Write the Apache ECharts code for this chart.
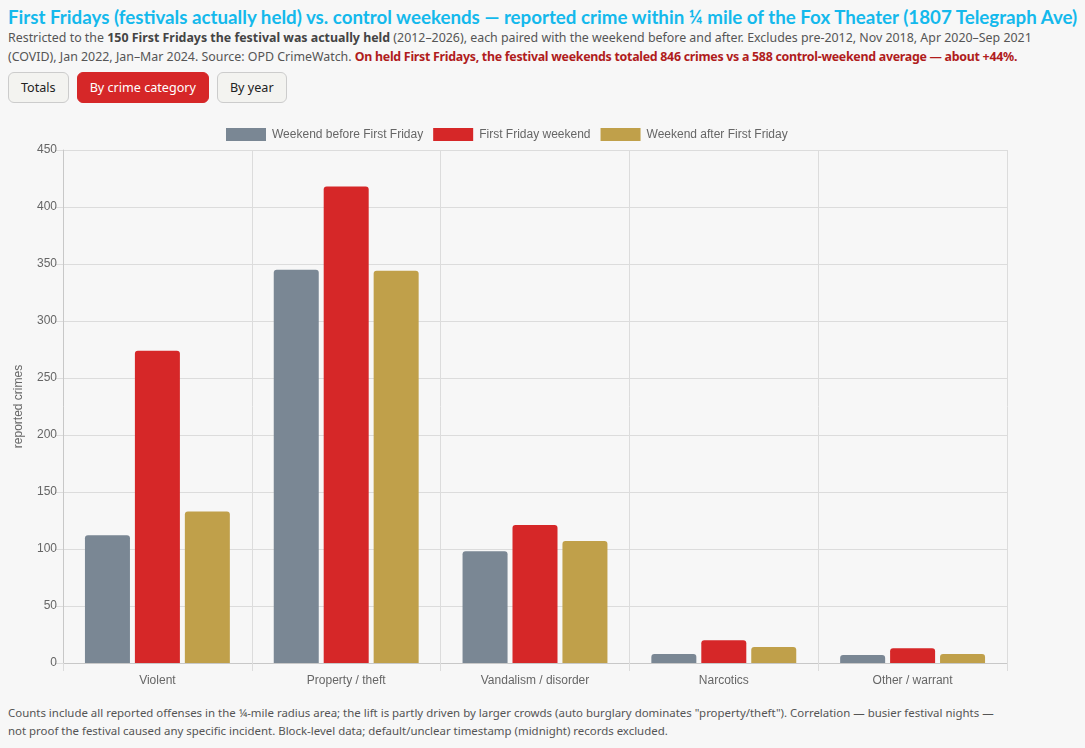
<!DOCTYPE html>
<html>
<head>
<meta charset="utf-8">
<script src="https://cdn.jsdelivr.net/npm/echarts@6/dist/echarts.min.js"></script>
<style>
  body {
    margin: 0;
    background: #f7f7f7;
    font-family: 'Noto Sans', sans-serif;
    width: 1085px;
    height: 748px;
    overflow: hidden;
    position: relative;
  }
  h1 {
    position: absolute;
    left: 8px;
    top: 6px;
    margin: 0;
    font-family: Lato, sans-serif;
    font-size: 20px;
    font-weight: 700;
    color: #14b9ec;
    white-space: nowrap;
  }
  .sub {
    position: absolute;
    left: 8px;
    top: 28px;
    width: 1070px;
    font-size: 12.4px;
    line-height: 19px;
    color: #555;
  }
  .sub b { color: #444; }
  .sub .hl { color: #b01c1c; font-weight: 700; letter-spacing: -0.28px; }
  .buttons {
    position: absolute;
    left: 8px;
    top: 72px;
    display: flex;
    gap: 8px;
  }
  .buttons button {
    height: 31px;
    padding: 0 12px;
    border: 1px solid #ccc;
    border-radius: 6px;
    background: #f3f3f0;
    color: #222;
    font-family: 'Noto Sans', sans-serif;
    font-size: 12.6px;
  }
  .buttons button.active {
    background: #d62728;
    border-color: #d62728;
    color: #fff;
  }
  #chart {
    position: absolute;
    left: 0;
    top: 110px;
    width: 1085px;
    height: 590px;
  }
  .note {
    position: absolute;
    left: 8px;
    top: 704px;
    width: 1000px;
    font-size: 11.45px;
    line-height: 18px;
    color: #555;
  }
</style>
</head>
<body>
<h1 id="title">First Fridays (festivals actually held) vs. control weekends — reported crime within ¼ mile of the Fox Theater (1807 Telegraph Ave)</h1>
<div class="sub">Restricted to the <b>150 First Fridays the festival was actually held</b> (2012–2026), each paired with the weekend before and after. Excludes pre-2012, Nov 2018, Apr 2020–Sep 2021 (COVID), Jan 2022, Jan–Mar 2024. Source: OPD CrimeWatch. <span class="hl">On held First Fridays, the festival weekends totaled 846 crimes vs a 588 control-weekend average — about +44%.</span></div>
<div class="buttons">
  <button>Totals</button>
  <button class="active">By crime category</button>
  <button>By year</button>
</div>
<div id="chart"></div>
<div class="note">Counts include all reported offenses in the ¼-mile radius area; the lift is partly driven by larger crowds (auto burglary dominates "property/theft"). Correlation — busier festival nights — not proof the festival caused any specific incident. Block-level data; default/unclear timestamp (midnight) records excluded.</div>
<script>
const categories = ['Violent', 'Property / theft', 'Vandalism / disorder', 'Narcotics', 'Other / warrant'];
const seriesNames = ['Weekend before First Friday', 'First Friday weekend', 'Weekend after First Friday'];
const before = [112, 345, 98, 8, 7];
const firstFriday = [274, 418, 121, 20, 13];
const after = [133, 344, 107, 14, 8];
const colors = ['#7a8794', '#d62728', '#c0a04a'];

// fit the title to the width it takes in the original
const title = document.getElementById('title');
title.style.fontSize = (20 * 1069 / title.offsetWidth) + 'px';

const chart = echarts.init(document.getElementById('chart'));
const font = 'Liberation Sans, Arial, sans-serif';

const mkSeries = (name, data, color) => ({
  name: name,
  type: 'bar',
  data: data,
  barWidth: 45,
  barGap: '11%',
  itemStyle: { color: color, borderRadius: [3, 3, 0, 0] }
});

chart.setOption({
  animation: false,
  textStyle: { fontFamily: font },
  legend: {
    top: 13,
    left: 221,
    itemWidth: 40,
    itemHeight: 13,
    itemGap: 10,
    icon: 'rect',
    textStyle: { color: '#666', fontSize: 12, fontFamily: font, padding: [0, 0, 0, 1] }
  },
  grid: { left: 63, right: 78, top: 40, bottom: 37 },
  xAxis: {
    type: 'category',
    data: categories,
    axisLine: { lineStyle: { color: '#c8c8c8' } },
    axisTick: { show: true, length: 8, lineStyle: { color: '#dcdcdc' } },
    splitLine: { show: true, lineStyle: { color: '#dcdcdc' } },
    axisLabel: { color: '#666', fontSize: 12, margin: 12, fontFamily: font }
  },
  yAxis: {
    type: 'value',
    min: 0,
    max: 450,
    interval: 50,
    name: 'reported crimes',
    nameLocation: 'middle',
    nameGap: 38,
    nameTextStyle: { color: '#666', fontSize: 12, fontFamily: font },
    axisLine: { show: true, lineStyle: { color: '#c8c8c8' } },
    axisTick: { show: true, length: 8, lineStyle: { color: '#dcdcdc' } },
    splitLine: { lineStyle: { color: '#dcdcdc' } },
    axisLabel: { color: '#666', fontSize: 12, margin: 6, fontFamily: font }
  },
  series: [
    mkSeries(seriesNames[0], before, colors[0]),
    mkSeries(seriesNames[1], firstFriday, colors[1]),
    mkSeries(seriesNames[2], after, colors[2])
  ]
});
</script>
</body>
</html>
